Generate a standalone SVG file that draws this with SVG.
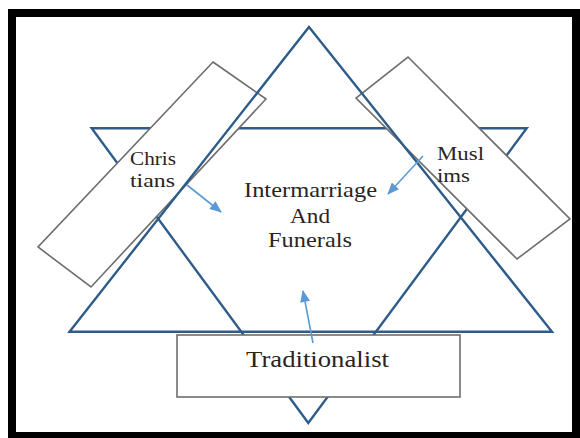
<svg xmlns="http://www.w3.org/2000/svg" width="580" height="438" viewBox="0 0 580 438">
  <style>
    .tri { fill: none; stroke: #2E5C8A; stroke-width: 2.4; stroke-linejoin: miter; }
    .box { fill: #ffffff; stroke: #6E6E6E; stroke-width: 1.6; }
    .lbl { font-family: "Liberation Serif", "DejaVu Serif", "Times New Roman", serif; fill: #2A2424; }
    .arr { fill: none; stroke: #5B9BD5; stroke-width: 1.6; marker-end: url(#ah); }
  </style>
  <defs>
    <marker id="ah" viewBox="0 0 12 10" refX="11" refY="5" markerWidth="13" markerHeight="10" markerUnits="userSpaceOnUse" orient="auto">
      <path d="M0,0 L12,5 L0,10 z" fill="#5B9BD5"/>
    </marker>
  </defs>

  <rect x="0" y="0" width="580" height="438" fill="#ffffff"/>

  <!-- outer black frame -->
  <g id="frame" fill="#000000">
    <rect x="8" y="9" width="572" height="8"/>
    <rect x="8" y="9" width="8" height="429"/>
    <rect x="8" y="432" width="572" height="6"/>
    <rect x="572" y="9" width="8" height="429"/>
  </g>

  <!-- downward triangle (behind the side boxes) -->
  <g id="triangle-down">
    <polygon class="tri" points="91.7,128.3 526.7,128.3 308.3,423"/>
  </g>

  <!-- side boxes -->
  <g id="christians">
    <polygon class="box" points="213,62 266,99 91,287 38,247"/>
    <text class="lbl" x="130" y="165" font-family="Liberation Serif, DejaVu Serif, serif" font-size="18" textLength="46" lengthAdjust="spacingAndGlyphs">Chris</text>
    <text class="lbl" x="130" y="187" font-family="Liberation Serif, DejaVu Serif, serif" font-size="18" textLength="45" lengthAdjust="spacingAndGlyphs">tians</text>
  </g>
  <g id="muslims">
    <polygon class="box" points="408,57 570,219 517,259 356,98"/>
    <text class="lbl" x="437" y="160" font-family="Liberation Serif, DejaVu Serif, serif" font-size="18" textLength="47" lengthAdjust="spacingAndGlyphs">Musl</text>
    <text class="lbl" x="437" y="182" font-family="Liberation Serif, DejaVu Serif, serif" font-size="18" textLength="33" lengthAdjust="spacingAndGlyphs">ims</text>
  </g>

  <!-- upward triangle -->
  <g id="triangle-up">
    <polygon class="tri" points="309,27 552,331.7 69.5,331.7"/>
  </g>

  <!-- bottom box -->
  <g id="traditionalist">
    <rect class="box" x="177" y="335" width="283" height="62" stroke-width="2"/>
    <text class="lbl" x="246" y="367" font-family="Liberation Serif, DejaVu Serif, serif" font-size="24" textLength="143" lengthAdjust="spacingAndGlyphs">Traditionalist</text>
  </g>

  <!-- centre label -->
  <g id="centre">
    <text class="lbl" x="244" y="197" font-family="Liberation Serif, DejaVu Serif, serif" font-size="21" textLength="133" lengthAdjust="spacingAndGlyphs">Intermarriage</text>
    <text class="lbl" x="290" y="223" font-family="Liberation Serif, DejaVu Serif, serif" font-size="21" textLength="40" lengthAdjust="spacingAndGlyphs">And</text>
    <text class="lbl" x="268" y="247" font-family="Liberation Serif, DejaVu Serif, serif" font-size="21" textLength="84" lengthAdjust="spacingAndGlyphs">Funerals</text>
  </g>

  <!-- connectors -->
  <g id="connectors">
    <line class="arr" x1="187" y1="185" x2="221" y2="212"/>
    <line class="arr" x1="423" y1="156" x2="388" y2="194"/>
    <line class="arr" x1="313" y1="343" x2="303" y2="291"/>
  </g>
</svg>
